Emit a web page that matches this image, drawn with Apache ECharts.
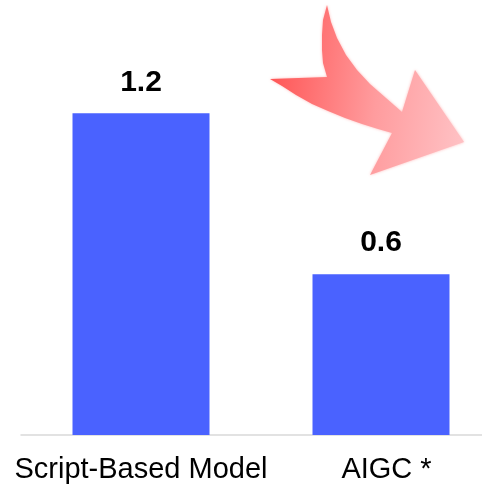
<!DOCTYPE html>
<html>
<head>
<meta charset="utf-8">
<style>
  html, body { margin: 0; padding: 0; background: #ffffff; }
  #chart { width: 482px; height: 491px; }
</style>
<script src="https://cdn.jsdelivr.net/npm/echarts@6/dist/echarts.min.js"></script>
</head>
<body>
<div id="chart"></div>
<script>
// Categories and values
const categories = ['Script-Based Model', 'AIGC*'];
const values = [1.2, 0.6];

const chart = echarts.init(document.getElementById('chart'), null, { renderer: 'canvas' });

const labelFont = 'Liberation Sans, Arial, sans-serif';

// Trailing "*" on a category name is drawn as a separate footnote mark
function categoryLabel(name) {
  if (name.endsWith('*')) {
    return '{main|' + name.slice(0, -1) + '}{mark|*}';
  }
  return name;
}

// Outline of the decorative curved arrow (tail, body, head)
const arrowPoints = [
  [327, 5], [323, 20], [322, 35], [322, 50], [323, 63], [327, 77],
  [270, 79], [282, 86], [296, 95], [312, 104], [328, 111], [345, 118],
  [362, 124], [378, 129], [392, 133],
  [370, 175], [464, 142], [415, 70], [402, 112],
  [386, 98], [370, 84], [357, 70], [346, 55], [337, 38], [331, 22]
];

const option = {
  animation: false,
  backgroundColor: '#ffffff',
  grid: {
    left: 21, width: 480, top: 6, bottom: 56,
    containLabel: false,
    outerBoundsMode: 'none'
  },
  xAxis: {
    type: 'category',
    data: categories,
    axisLine: { show: true, lineStyle: { color: '#d9d9d9', width: 1.5 } },
    axisTick: { show: false },
    axisLabel: {
      interval: 0,
      hideOverlap: false,
      margin: 20,
      fontFamily: labelFont,
      fontSize: 29,
      color: '#000000',
      formatter: categoryLabel,
      rich: {
        main: {
          fontFamily: labelFont,
          fontSize: 29,
          color: '#000000',
          padding: [0, 0, 0, 11]
        },
        mark: {
          fontFamily: labelFont,
          fontSize: 29,
          color: '#000000',
          padding: [0, 0, 0, 8]
        }
      }
    }
  },
  yAxis: {
    type: 'value',
    min: 0,
    max: 1.6,
    show: false,
    splitLine: { show: false }
  },
  series: [{
    type: 'bar',
    data: values,
    barWidth: 137,
    itemStyle: { color: '#4a62ff' },
    label: {
      show: true,
      position: 'top',
      distance: 16,
      fontFamily: labelFont,
      fontWeight: 'bold',
      fontSize: 30,
      color: '#000000',
      formatter: (p) => p.value.toFixed(1)
    }
  }],
  graphic: [{
    type: 'polygon',
    silent: true,
    shape: { points: arrowPoints, smooth: 0 },
    style: {
      fill: {
        type: 'linear',
        x: 0, y: 0.45, x2: 1, y2: 0.6,
        colorStops: [
          { offset: 0, color: '#ff5656' },
          { offset: 0.55, color: '#ff9c9e' },
          { offset: 1, color: '#ffc0c3' }
        ]
      },
      shadowBlur: 3,
      shadowColor: 'rgba(255,140,140,0.6)'
    }
  }]
};

chart.setOption(option);
</script>
</body>
</html>
